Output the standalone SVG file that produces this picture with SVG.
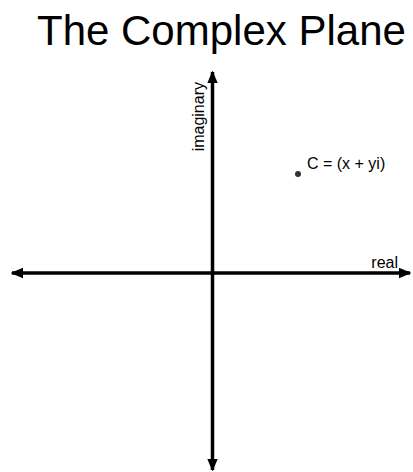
<svg xmlns="http://www.w3.org/2000/svg" width="413" height="472" viewBox="0 0 413 472">
<style>
text{font-family:"Liberation Sans",Arial,sans-serif;fill:#000}
.lbl{font-size:16px}
.axis{stroke:#000;stroke-width:3.5;fill:none}
</style>
<defs>
<marker id="ah" markerWidth="3.6" markerHeight="3.6" refX="3.2" refY="1.8" orient="auto-start-reverse" markerUnits="strokeWidth" viewBox="0 0 3.6 3.6">
<path d="M0,0.3 L3.6,1.8 L0,3.3 Z" fill="#000"/>
</marker>
</defs>
<rect width="413" height="472" fill="#fff"/>
<g id="title"><text x="37" y="45" font-size="42">The Complex Plane</text></g>
<g id="connectors">
<line class="axis" x1="12" y1="273" x2="410" y2="273" marker-start="url(#ah)" marker-end="url(#ah)"/>
<line class="axis" x1="212.5" y1="72" x2="212.5" y2="470" marker-start="url(#ah)" marker-end="url(#ah)"/>
</g>
<g id="real"><text class="lbl" x="398" y="268" text-anchor="end">real</text></g>
<g id="imaginary"><text class="lbl" x="204" y="82" text-anchor="end" transform="rotate(-90 204 82)">imaginary</text></g>
<g id="pointC">
<circle cx="298" cy="174" r="3" fill="#333"/>
<text class="lbl" x="307" y="169">C = (x + yi)</text>
</g>
</svg>
